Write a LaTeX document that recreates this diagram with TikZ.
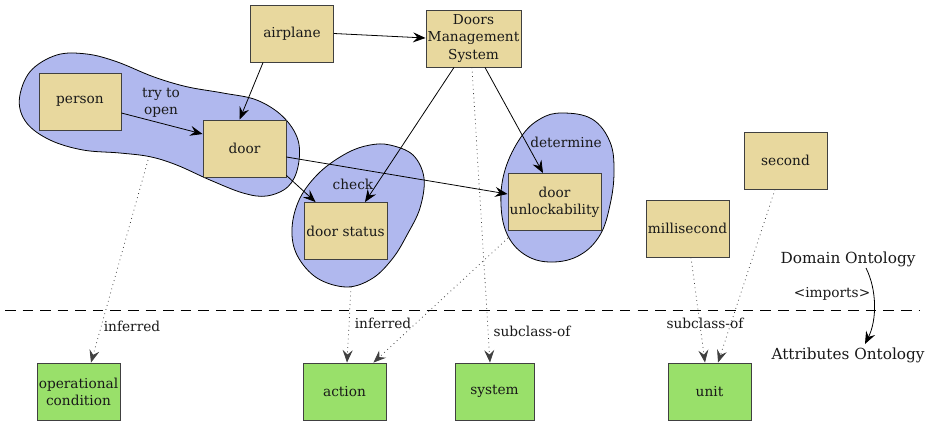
\documentclass[tikz,border=0pt]{standalone}
\usepackage{fontspec}
\setmainfont{DejaVu Serif}
\usetikzlibrary{arrows.meta,calc}
\definecolor{tanc}{HTML}{E8D89E}
\definecolor{greenc}{HTML}{99E06A}
\definecolor{bluec}{HTML}{B0B8EE}
\begin{document}
\begin{tikzpicture}[x=0.02cm,y=-0.02cm,
  every node/.style={font=\fontsize{7.8}{9.8}\selectfont, text=black!90},
  box/.style={draw=black!75, line width=0.5pt, minimum width=1.66cm, minimum height=1.14cm, align=center, inner sep=1pt},
  dom/.style={box, fill=tanc},
  att/.style={box, fill=greenc},
  blob/.style={draw=black, fill=bluec, line width=0.45pt},
  rel/.style={-{Stealth[length=2.5mm,width=2.0mm,inset=0.9mm]}, draw=black, line width=0.45pt},
  dotrel/.style={-{Stealth[length=2.5mm,width=2.0mm,inset=0.9mm]}, draw=black!75, line width=0.45pt, dotted},
  lbl/.style={inner sep=1pt}
]
\useasboundingbox (0,0) rectangle (933,424);

% blobs
\draw[blob] plot[smooth cycle, tension=0.6] coordinates {
  (19.3,100) (30,71.7) (56.7,55) (86.7,54) (116.7,61.7) (153.3,76.7)
  (186.7,86.7) (223,93) (256.7,100) (283,116.7) (298,140) (298,166.7)
  (288,186.7) (266.7,196) (243,193) (210,180) (176.7,165) (150,156.7)
  (120,153) (83,150) (50,140) (26.7,123)};
\draw[blob] plot[smooth cycle, tension=0.6] coordinates {
  (390,145) (413,155) (424,178) (420,208) (407,235) (393,258) (373,278)
  (347,287) (317,278) (297,255) (292,228) (300,198) (320,172) (347,153) (370,145)};
\draw[blob] plot[smooth cycle, tension=0.65] coordinates {
  (562,113) (592,119) (610,142) (614,172) (610,205) (600,235) (580,255)
  (553,262) (527,256) (508,236) (501,205) (505,170) (521,137) (540,119)};

\coordinate (b1) at (148,160);
\coordinate (b2) at (351,287);
\coordinate (b3) at (508,238);

% separator
\coordinate (sepL) at (5,310);
\coordinate (sepR) at (920,310);
\draw[dash pattern=on 6pt off 4pt, line width=0.5pt] (sepL) -- (sepR);

% domain nodes
\node[dom] (airplane) at (292,33.5) {airplane};
\node[dom, minimum width=1.9cm] (dms) at (473.5,38.5) {Doors\\Management\\System};
\node[dom, minimum width=1.64cm] (person) at (80,101.5) {person};
\node[dom] (door) at (244.5,148.5) {door};
\node[dom] (status) at (345.5,231) {door status};
\node[dom, minimum width=1.82cm] (unlock) at (554.5,202) {door\\unlockability};
\node[dom] (milli) at (687.5,228.5) {millisecond};
\node[dom] (second) at (785.5,160.5) {second};

% attribute nodes
\node[att, minimum width=1.58cm] (opcond) at (78.5,391.5) {operational\\condition};
\node[att] (action) at (344.5,391.5) {action};
\node[att, minimum width=1.58cm] (system) at (494.5,391.5) {system};
\node[att] (unit) at (709.5,391.5) {unit};

% labels
\node[lbl, align=center] (trylbl) at (161,103) {try to\\open};
\node[lbl] (checklbl) at (353,184) {check};
\node[lbl] (detlbl) at (566,142) {determine};
\node[lbl] (inf1) at (132,326) {inferred};
\node[lbl] (inf2) at (383,323) {inferred};
\node[lbl] (sub1) at (532,331) {subclass-of};
\node[lbl] (sub2) at (705,323) {subclass-of};

\node[lbl, font=\fontsize{8.7}{11}\selectfont] (domont) at (848,259) {Domain Ontology};
\node[lbl, font=\fontsize{8.7}{11}\selectfont] (attont) at (848,355) {Attributes Ontology};

% relations
\draw[rel] (airplane.east) -- ($(dms.west)+(0,-0.5)$);
\draw[rel] ($(airplane.south west)+(13,0)$) -- ($(door.north west)+(37,0)$);
\draw[rel] ($(person.east)+(0,11.5)$) -- ($(door.west)+(0,-14.5)$);
\draw[rel] ($(door.east)+(0,8.5)$) -- ($(unlock.west)+(0,-8)$);
\draw[rel] ($(door.south east)+(0,-2)$) -- ($(status.north west)+(12,0)$);
\draw[rel] ($(dms.south)+(-19.5,0)$) -- ($(status.north)+(19.5,0)$);
\draw[rel] ($(dms.south)+(11.5,0)$) -- ($(unlock.north)+(-11.5,0)$);

% dotted relations
\draw[dotrel] (b1) -- ($(opcond.north)+(12.5,0)$);
\draw[dotrel] (b2) -- ($(action.north)+(2.5,0)$);
\draw[dotrel] (b3) -- ($(action.north east)+(-13,0)$);
\draw[dotrel] ($(dms.south)+(-1.5,0)$) -- ($(system.north)+(-4.5,0)$);
\draw[dotrel] ($(milli.south)+(3.5,0)$) -- ($(unit.north)+(-4.5,0)$);
\draw[dotrel] ($(second.south)+(-10.5,0)$) -- ($(unit.north)+(8.5,0)$);

% imports
\coordinate (imp1) at (866,268);
\coordinate (imp2) at (865,344);
\draw[rel] (imp1) .. controls (877,290) and (877,320) .. (imp2);
\node[lbl] (implbl) at (832,294) {<imports>};
\end{tikzpicture}
\end{document}
